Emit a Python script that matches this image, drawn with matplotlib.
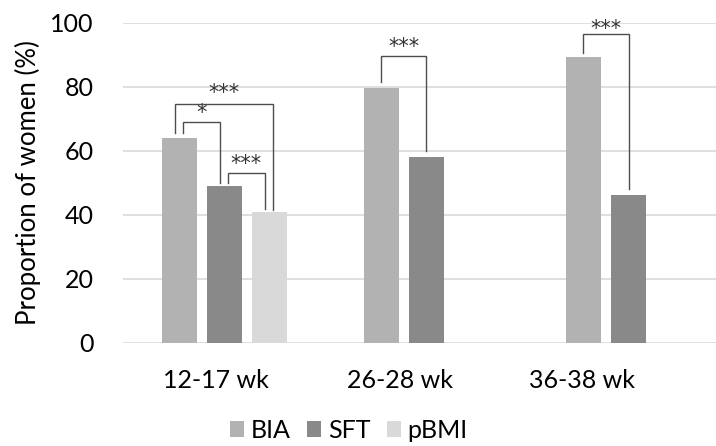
import matplotlib
matplotlib.use("Agg")
import matplotlib.pyplot as plt
import numpy as np

plt.rcParams['font.family'] = ['Lato', 'DejaVu Sans']

# data
categories = ['12-17 wk', '26-28 wk', '36-38 wk']
series = ['BIA', 'SFT', 'pBMI']
bia = [64.1, 79.6, 89.4]
sft = [49.1, 57.9, 46.3]
pbmi = [40.7, None, None]
colors = ['#b2b2b2', '#898989', '#d9d9d9']

# significance brackets: (x_left, x_right, y_left, y_top, y_right, label, label_baseline)
brackets = [
    (-0.243, 0.243, 65.4, 74.5, 41.5, '***', 76.3),
    (-0.203, -0.020, 65.4, 69.1, 49.8, '*', 70.0),
    (0.020, 0.200, 49.8, 52.9, 41.7, '***', 54.0),
    (0.777, 1.000, 81.6, 89.6, 60.0, '***', 90.4),
    (1.777, 2.000, 90.6, 96.4, 47.9, '***', 96.3),
]

fig = plt.figure(figsize=(7.16, 4.46), dpi=100)
ax = fig.add_axes([0.1718, 0.2316, 0.8473, 0.7175])

x = np.arange(len(categories))
width = 0.173
offset = 0.223
handles = []
for i, (name, vals) in enumerate(zip(series, [bia, sft, pbmi])):
    xs = [xi + (i - 1) * offset for xi, v in zip(x, vals) if v is not None]
    ys = [v for v in vals if v is not None]
    h = ax.bar(xs, ys, width=width, color=colors[i], label=name, zorder=3)
    handles.append(h)

for xl, xr, yl, yt, yr, lab, ly in brackets:
    ax.plot([xl, xl, xr, xr], [yl, yt, yt, yr], color='#4d4d4d', lw=1.0,
            zorder=4, solid_joinstyle='miter')
    ax.text((xl + xr) / 2, ly, lab, ha='center', va='baseline', fontsize=15,
            color='#333333', family=['DejaVu Sans'], clip_on=False)

ax.set_xlim(-0.5, 2.5)
ax.set_ylim(0, 100)
ax.set_yticks([0, 20, 40, 60, 80, 100])
ax.yaxis.grid(True, color='#d9d9d9', lw=1.2, zorder=0)
ax.set_axisbelow(True)
for s in ['top', 'right', 'left', 'bottom']:
    ax.spines[s].set_visible(False)

ax.set_xticks([-0.04, 0.87, 1.77])
ax.set_xticklabels(categories)
ax.tick_params(axis='both', length=0, labelsize=18, colors='#000000')
ax.tick_params(axis='y', pad=21)
ax.tick_params(axis='x', pad=19)
ax.set_ylabel('Proportion of women (%)', fontsize=18.5, labelpad=7)

fig.legend(handles=handles, labels=series, loc='center', ncol=3,
           bbox_to_anchor=(0.487, 0.035), frameon=False, fontsize=18,
           handlelength=0.56, handleheight=0.56, handletextpad=0.28,
           columnspacing=0.65, borderaxespad=0, borderpad=0)

fig.savefig('out.png', dpi=100)
